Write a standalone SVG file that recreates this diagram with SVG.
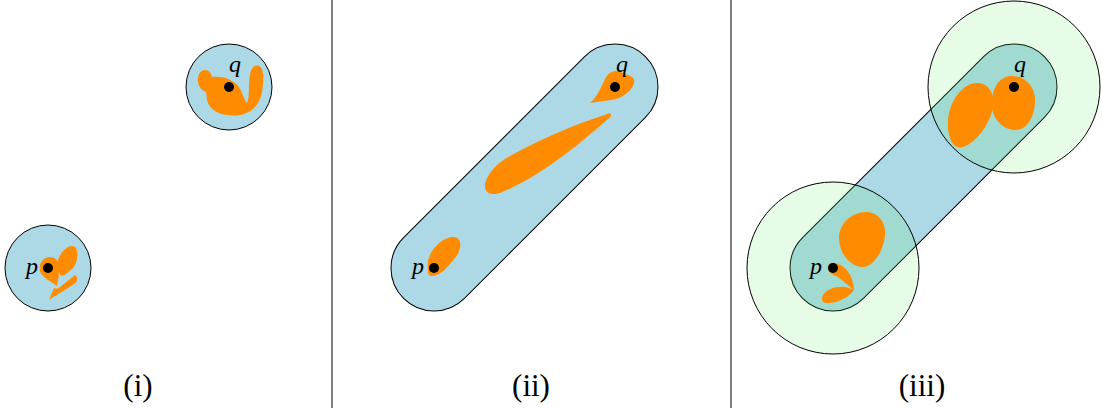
<svg xmlns="http://www.w3.org/2000/svg" width="1102" height="408" viewBox="0 0 1102 408">
<style>
.reg{fill:#ADD8E6;stroke:#000;stroke-width:1}
.big{fill:#5AEB5A;fill-opacity:0.15;stroke:#000;stroke-width:1}
.blob{fill:#FF8C00;stroke:none}
.dot{fill:#000}
.lab{font-family:"Liberation Serif",serif;font-style:italic;font-size:24px;fill:#000}
.cap{font-family:"Liberation Serif",serif;font-size:31px;fill:#000;text-anchor:middle}
.sep{stroke:#000;stroke-width:1}
</style>
<rect width="1102" height="408" fill="#fff"/>
<g id="separators">
<line class="sep" x1="332" y1="0" x2="332" y2="408"/>
<line class="sep" x1="731" y1="0" x2="731" y2="408"/>
</g>
<g id="panel-i">
<g id="i-p">
<circle class="reg" cx="48" cy="268" r="43"/>
<path class="blob" d="M 57,286 C 51,281 42,278 40,271 C 38,263 44,257 50,257 C 56,257 60,262 59,269 C 59,276 58,281 57,286 Z"/>
<path class="blob" d="M 61,276 C 57,269 56,261 61,254 C 65,248 71,244 75,247 C 79,251 78,262 73,268 C 69,272 65,275 61,276 Z"/>
<path class="blob" d="M 49,300 C 51,295 53,291 54,288 C 56,289 58,289 60,287 C 65,283 70,279 75,275 C 78,277 78,282 74,284 C 67,289 59,293 49,300 Z"/>
<circle class="dot" cx="48" cy="268" r="5"/>
<text class="lab" x="26" y="274">p</text>
</g>
<g id="i-q">
<circle class="reg" cx="229" cy="87" r="43"/>
<path class="blob" d="M 205,70 C 209,70 211,73 212,77 C 222,76 233,79 239,87 C 243,93 244,100 247,103 C 250,98 248,85 250,75 C 251,68 255,64 259,66 C 264,68 264,80 262,92 C 260,104 252,113 240,115 C 226,117 214,113 209,105 C 206,100 207,95 206,92 C 203,91 199,88 198,82 C 197,76 200,70 205,70 Z"/>
<circle class="dot" cx="229" cy="87" r="5"/>
<text class="lab" x="229" y="72">q</text>
</g>
<text class="cap" x="138" y="396">(i)</text>
</g>
<g id="panel-ii">
<g id="ii-region">
<rect class="reg" x="-171" y="-43" width="342" height="86" rx="43" transform="translate(524.5 177.5) rotate(-45)"/>
<path class="blob" d="M 428,268 C 425,255 440,238 452,237 C 462,236 463,248 455,258 C 448,267 440,276 432,276 C 427,276 428,270 428,268 Z"/>
<path class="blob" d="M 590,103 C 596,98 601,88 605,79 C 608,73 612,71 617,71 C 622,72 628,75 632,77 C 636,79 634,85 631,89 C 626,95 619,99 611,100 C 603,101 596,102 590,103 Z"/>
<path class="blob" d="M 610,113 C 612,114 611,117 608,119 C 595,130 575,148 553,163 C 535,176 515,187 500,193 C 490,196 484,192 485,184 C 487,175 495,165 505,159 C 530,144 570,126 610,113 Z"/>
<circle class="dot" cx="434" cy="268" r="5"/>
<circle class="dot" cx="615" cy="87" r="5"/>
<text class="lab" x="412" y="274">p</text>
<text class="lab" x="616" y="72">q</text>
</g>
<text class="cap" x="531" y="396">(ii)</text>
</g>
<g id="panel-iii">
<g id="iii-region">
<rect class="reg" x="-171" y="-43" width="342" height="86" rx="43" transform="translate(923.5 177.5) rotate(-45)"/>
</g>
<g id="iii-p-ball">
<circle class="big" cx="833" cy="268" r="86"/>
</g>
<g id="iii-q-ball">
<circle class="big" cx="1014" cy="87" r="86"/>
</g>
<g id="iii-blobs">
<path class="blob" d="M 866,212 C 878,212 886,222 885,235 C 884,250 874,266 864,267 C 852,268 840,255 839,240 C 838,224 852,212 866,212 Z"/>
<path class="blob" d="M 854,290 C 848,286 842,279 836,276 C 830,274 827,270 828,266 C 829,262 834,262 838,264 C 846,267 853,275 854,290 Z"/>
<path class="blob" d="M 854,290 C 850,296 840,302 830,303 C 823,304 820,300 823,295 C 827,289 836,286 845,287 C 849,288 852,289 854,290 Z"/>
<path class="blob" d="M 978,83 C 990,84 995,95 993,108 C 990,122 978,142 963,147 C 952,150 947,135 948,120 C 949,103 962,82 978,83 Z"/>
<path class="blob" d="M 1010,76 C 1024,75 1035,86 1035,100 C 1035,118 1026,130 1016,130 C 1004,130 994,121 992,108 C 990,92 998,77 1010,76 Z"/>
<circle class="dot" cx="833" cy="268" r="5"/>
<circle class="dot" cx="1014" cy="87" r="5"/>
<text class="lab" x="810" y="274">p</text>
<text class="lab" x="1014" y="72">q</text>
</g>
<text class="cap" x="922" y="396">(iii)</text>
</g>
</svg>
